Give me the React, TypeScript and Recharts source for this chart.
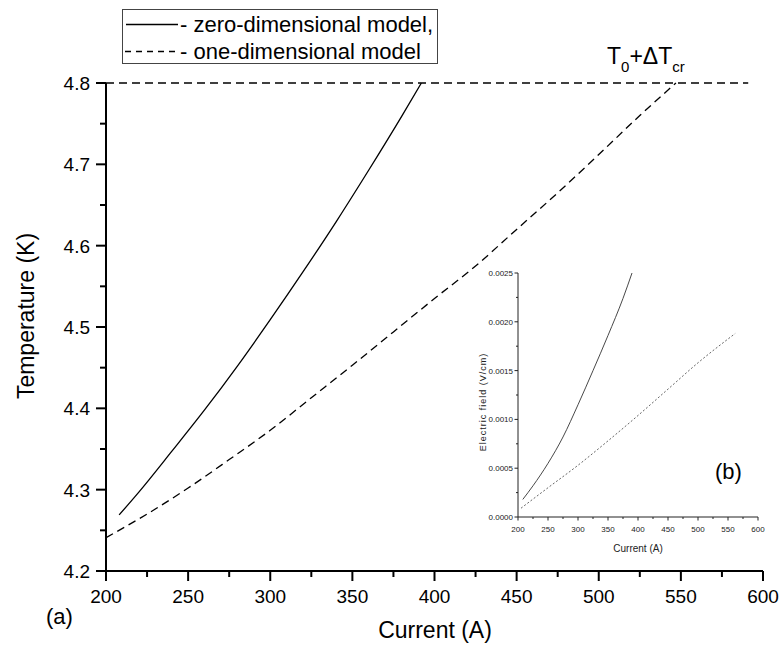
import React from 'react';
import { LineChart, Line, XAxis, YAxis } from 'recharts';

// main panel (a): temperature vs current
const zeroDimCurrent = [208, 220, 240, 260, 280, 300, 320, 340, 360, 380, 392];
const zeroDimTemp = [4.269, 4.297, 4.347, 4.398, 4.452, 4.509, 4.568, 4.629, 4.693, 4.759, 4.8];
const oneDimCurrent = [200, 225, 250, 275, 300, 325, 350, 375, 400, 425, 450, 475, 500, 525, 547];
const oneDimTemp = [4.241, 4.27, 4.302, 4.337, 4.373, 4.413, 4.453, 4.494, 4.535, 4.575, 4.62, 4.665, 4.712, 4.76, 4.8];
const criticalCurrent = [200, 591];
const criticalTemp = [4.8, 4.8];

// inset (b): electric field vs current
const insetZeroCurrent = [208, 225, 250, 275, 300, 325, 350, 375, 390];
const insetZeroField = [0.00018, 0.00032, 0.00055, 0.00082, 0.00115, 0.0015, 0.00186, 0.00224, 0.0025];
const insetOneCurrent = [205, 250, 300, 350, 400, 450, 500, 562];
const insetOneField = [0.00009, 0.0003, 0.00053, 0.00078, 0.00104, 0.00131, 0.00158, 0.00188];

const currentTicks = [200, 225, 250, 275, 300, 325, 350, 375, 400, 425, 450, 475, 500, 525, 550, 575, 600];
const tempTicks = [4.2, 4.25, 4.3, 4.35, 4.4, 4.45, 4.5, 4.55, 4.6, 4.65, 4.7, 4.75, 4.8];
const fieldTicks = [0, 0.00025, 0.0005, 0.00075, 0.001, 0.00125, 0.0015, 0.00175, 0.002, 0.00225, 0.0025];

const pair = (xs: number[], ys: number[]) => xs.map((x, i) => ({ x, y: ys[i] }));

const FONT = '"Liberation Sans", Arial, sans-serif';
const NARROW = '"Liberation Sans Narrow", "Liberation Sans", Arial, sans-serif';

const MainXTick = (props: any) => {
  const { x, y, payload } = props;
  const major = payload.value % 50 === 0;
  return (
    <g>
      <line x1={x} x2={x} y1={y} y2={y + (major ? 10 : 6)} stroke="#000" strokeWidth={2} />
      {major && (
        <text x={x} y={y + 32} textAnchor="middle" fontSize={19} fontFamily={FONT} fill="#000">
          {payload.value}
        </text>
      )}
    </g>
  );
};

const MainYTick = (props: any) => {
  const { x, y, payload } = props;
  const major = Math.round(payload.value * 100) % 10 === 0;
  return (
    <g>
      <line x1={x} x2={x - (major ? 10 : 6)} y1={y} y2={y} stroke="#000" strokeWidth={2} />
      {major && (
        <text x={x - 16} y={y + 7} textAnchor="end" fontSize={19} fontFamily={FONT} fill="#000">
          {payload.value.toFixed(1)}
        </text>
      )}
    </g>
  );
};

const InsetXTick = (props: any) => {
  const { x, y, payload } = props;
  const major = payload.value % 50 === 0;
  return (
    <g>
      <line x1={x} x2={x} y1={y} y2={y + (major ? 3.5 : 2)} stroke="#222" strokeWidth={1} />
      {major && (
        <text x={x} y={y + 15} textAnchor="middle" fontSize={8} fontFamily={NARROW} fill="#222">
          {payload.value}
        </text>
      )}
    </g>
  );
};

const InsetYTick = (props: any) => {
  const { x, y, payload } = props;
  const major = Math.round(payload.value * 100000) % 50 === 0;
  return (
    <g>
      <line x1={x} x2={x - (major ? 3.5 : 2)} y1={y} y2={y} stroke="#222" strokeWidth={1} />
      {major && (
        <text x={x - 5} y={y + 3} textAnchor="end" fontSize={8} fontFamily={NARROW} fill="#222">
          {payload.value.toFixed(4)}
        </text>
      )}
    </g>
  );
};

const abs = (left: number, top: number, extra: React.CSSProperties = {}): React.CSSProperties => ({
  position: 'absolute',
  left,
  top,
  fontFamily: FONT,
  color: '#000',
  whiteSpace: 'nowrap',
  ...extra,
});

export default function App() {
  return (
    <div style={{ position: 'absolute', left: 0, top: 0, width: 781, height: 647, background: '#fff' }}>
      <div style={{ position: 'absolute', left: 0, top: 0 }}>
        <LineChart width={781} height={647} margin={{ top: 83, right: 18, bottom: 0, left: 0 }}>
          <XAxis
            type="number"
            dataKey="x"
            domain={[200, 600]}
            ticks={currentTicks}
            interval={0}
            height={76}
            tickSize={0}
            tickMargin={0}
            tickLine={false}
            tick={(p: any) => <MainXTick {...p} />}
            axisLine={{ stroke: '#000', strokeWidth: 2 }}
          />
          <YAxis
            type="number"
            dataKey="y"
            domain={[4.2, 4.8]}
            ticks={tempTicks}
            interval={0}
            width={106}
            tickSize={0}
            tickMargin={0}
            tickLine={false}
            tick={(p: any) => <MainYTick {...p} />}
            axisLine={{ stroke: '#000', strokeWidth: 2 }}
          />
          <Line
            data={pair(criticalCurrent, criticalTemp)}
            dataKey="y"
            stroke="#000"
            strokeWidth={1.3}
            strokeDasharray="8 5"
            dot={false}
            isAnimationActive={false}
          />
          <Line
            data={pair(oneDimCurrent, oneDimTemp)}
            dataKey="y"
            type="monotone"
            stroke="#000"
            strokeWidth={1.3}
            strokeDasharray="8 5"
            dot={false}
            isAnimationActive={false}
          />
          <Line
            data={pair(zeroDimCurrent, zeroDimTemp)}
            dataKey="y"
            type="monotone"
            stroke="#000"
            strokeWidth={1.3}
            dot={false}
            isAnimationActive={false}
          />
        </LineChart>
      </div>

      <div style={{ position: 'absolute', left: 458, top: 263 }}>
        <LineChart width={310} height={284} margin={{ top: 10, right: 10, bottom: 0, left: 0 }}>
          <XAxis
            type="number"
            dataKey="x"
            domain={[200, 600]}
            ticks={currentTicks}
            interval={0}
            height={30}
            tickSize={0}
            tickMargin={0}
            tickLine={false}
            tick={(p: any) => <InsetXTick {...p} />}
            axisLine={{ stroke: '#222', strokeWidth: 1 }}
          />
          <YAxis
            type="number"
            dataKey="y"
            domain={[0, 0.0025]}
            ticks={fieldTicks}
            interval={0}
            width={60}
            tickSize={0}
            tickMargin={0}
            tickLine={false}
            tick={(p: any) => <InsetYTick {...p} />}
            axisLine={{ stroke: '#222', strokeWidth: 1 }}
          />
          <Line
            data={pair(insetOneCurrent, insetOneField)}
            dataKey="y"
            type="monotone"
            stroke="#555"
            strokeWidth={0.9}
            strokeDasharray="2 2"
            dot={false}
            isAnimationActive={false}
          />
          <Line
            data={pair(insetZeroCurrent, insetZeroField)}
            dataKey="y"
            type="monotone"
            stroke="#333"
            strokeWidth={0.9}
            dot={false}
            isAnimationActive={false}
          />
        </LineChart>
      </div>

      {/* legend */}
      <div
        style={abs(122, 9, {
          width: 316,
          height: 55,
          border: '1px solid #444',
          boxSizing: 'border-box',
          background: '#fff',
        })}
      >
        <svg width={60} height={55} style={{ position: 'absolute', left: 0, top: 0 }}>
          <line x1={3} x2={55} y1={14.5} y2={14.5} stroke="#000" strokeWidth={1.3} />
          <line x1={2} x2={56} y1={41.5} y2={41.5} stroke="#000" strokeWidth={1.3} strokeDasharray="6 5" />
        </svg>
        <div style={abs(57, 2, { fontSize: 22, lineHeight: '26px' })}>- zero-dimensional model,</div>
        <div style={abs(57, 29, { fontSize: 22, lineHeight: '26px' })}>- one-dimensional model</div>
      </div>

      {/* critical temperature label */}
      <div style={abs(607, 45, { fontSize: 23, lineHeight: '23px' })}>
        T<span style={{ fontSize: 15, position: 'relative', top: 8 }}>0</span>+ΔT
        <span style={{ fontSize: 15, position: 'relative', top: 8 }}>cr</span>
      </div>

      {/* main axis titles */}
      <div style={abs(335, 616, { width: 200, textAlign: 'center', fontSize: 23, lineHeight: '28px' })}>
        Current (A)
      </div>
      <div
        style={abs(-74, 302, {
          width: 200,
          textAlign: 'center',
          fontSize: 23,
          lineHeight: '28px',
          transform: 'rotate(-90deg)',
        })}
      >
        Temperature (K)
      </div>
      <div style={abs(46, 603, { fontSize: 22, lineHeight: '28px' })}>(a)</div>

      {/* inset titles */}
      <div style={abs(715, 458, { fontSize: 22, lineHeight: '28px' })}>(b)</div>
      <div
        style={abs(588, 542, {
          width: 100,
          textAlign: 'center',
          fontSize: 10,
          lineHeight: '14px',
          fontFamily: NARROW,
          color: '#222',
        })}
      >
        Current (A)
      </div>
      <div
        style={abs(423, 395, {
          width: 120,
          textAlign: 'center',
          fontSize: 9,
          lineHeight: '14px',
          letterSpacing: 1,
          color: '#222',
          transform: 'rotate(-90deg)',
        })}
      >
        Electric field (V/cm)
      </div>
    </div>
  );
}
